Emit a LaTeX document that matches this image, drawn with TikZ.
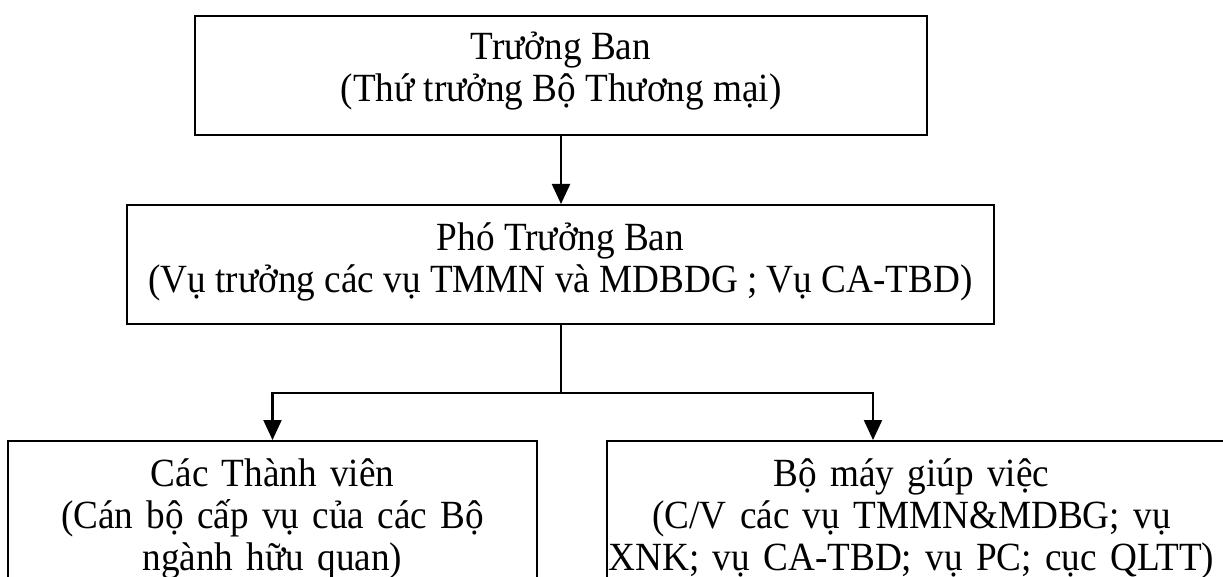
\documentclass[tikz,border=0pt]{standalone}
\usepackage{fontspec}
\setmainfont{Liberation Serif}[FakeStretch=0.93]
\usetikzlibrary{arrows.meta}
\begin{document}
\begin{tikzpicture}[x=1pt,y=-1pt,
  box/.style={draw, line width=2.2pt, align=center, inner sep=0pt,
    font=\fontsize{40}{42}\selectfont},
  conn/.style={line width=2.2pt},
  arr/.style={conn, -{Triangle[length=20pt,width=18pt]}}]
\useasboundingbox (0,0) rectangle (1223,577);
\clip (0,0) rectangle (1223,577);
\node[box, anchor=north, minimum width=732pt] (top) at (561,15)
  {\rule{0pt}{43pt}Trưởng Ban\\(Thứ trưởng Bộ Thương mại)\rule[-34pt]{0pt}{34pt}};
\node[box, anchor=north, minimum width=867pt] (mid) at (560.5,204)
  {\rule{0pt}{45pt}Phó Trưởng Ban\\(Vụ trưởng các vụ TMMN và MDBDG ; Vụ CA-TBD)\rule[-32pt]{0pt}{32pt}};
\node[box, anchor=north, minimum width=529pt, text width=529pt] (left) at (272.5,440)
  {\rule{0pt}{45pt}Các Thành viên\\(Cán bộ cấp vụ của các Bộ\\ngành hữu quan)\rule[-60pt]{0pt}{60pt}};
\node[box, anchor=north, minimum width=633pt, text width=633pt] (right) at (923.5,440)
  {\rule{0pt}{45pt}\hspace*{-24pt}Bộ máy giúp việc\\\hspace*{-24pt}(C/V các vụ TMMN\&MDBG; vụ\\\hspace*{-24pt}XNK; vụ CA-TBD; vụ PC; cục QLTT)\rule[-60pt]{0pt}{60pt}};
\coordinate (j) at (561,393);
\draw[arr] (top.south -| 561,0) -- (mid.north -| 561,0);
\draw[conn] (mid.south -| j) -- (j);
\draw[arr] (j) -| (left.north);
\draw[arr] (j) -| (right.north -| 873,0);
\end{tikzpicture}
\end{document}
